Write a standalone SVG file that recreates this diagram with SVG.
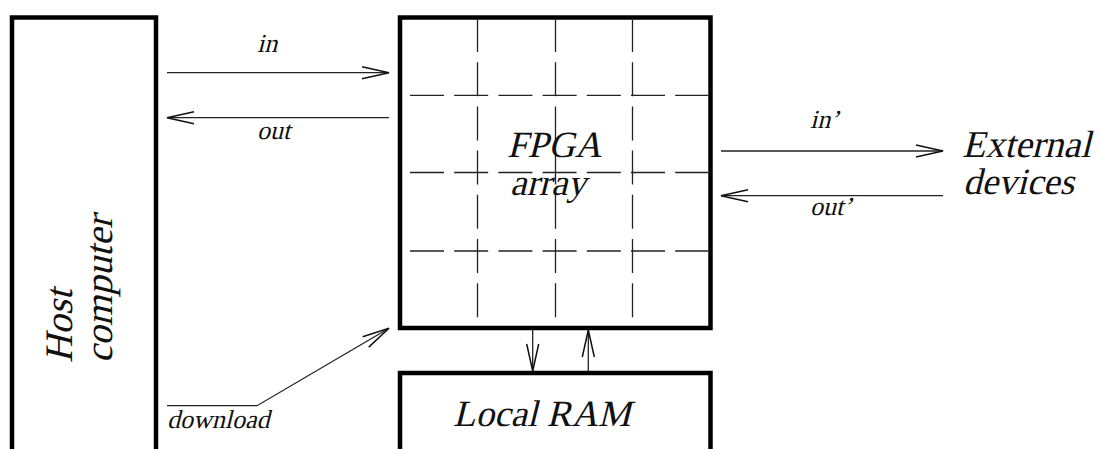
<svg xmlns="http://www.w3.org/2000/svg" width="1099" height="449" viewBox="0 0 1099 449">
<style>
.box{fill:#fff;stroke:#000;stroke-width:4.5}
.grid{stroke:#222;stroke-width:1.3;stroke-dasharray:34 10.2;fill:none}
.conn{stroke:#222;stroke-width:1.3;fill:none}
.lbl{font-family:'Liberation Serif','Times New Roman',serif;font-style:normal;fill:#111}
.s{font-size:26px}
.b{font-size:37px}
.h{font-size:39px}
</style>
<defs>
<marker id="ah" markerUnits="userSpaceOnUse" markerWidth="32" markerHeight="16" viewBox="-30 -8 32 16" refX="0" refY="0" orient="auto">
<path d="M-27,-6 L0,0 L-27,6" fill="none" stroke="#111" stroke-width="1.5"/>
</marker>
</defs>
<rect width="1099" height="449" fill="#fff"/>
<g id="host">
<rect class="box" x="12" y="17.5" width="144" height="450"/>
<text class="lbl h" transform="translate(72,363) rotate(-90) skewX(-14)">Host</text>
<text class="lbl h" transform="translate(112,363) rotate(-90) skewX(-14)">computer</text>
</g>
<g id="fpga">
<rect class="box" x="400" y="17.5" width="310.5" height="310.5"/>
<line class="grid" x1="477.5" y1="18" x2="477.5" y2="318"/>
<line class="grid" x1="555.5" y1="18" x2="555.5" y2="318"/>
<line class="grid" x1="632.5" y1="18" x2="632.5" y2="318"/>
<line class="grid" x1="410" y1="95.3" x2="708" y2="95.3"/>
<line class="grid" x1="410" y1="172.5" x2="708" y2="172.5"/>
<line class="grid" x1="410" y1="251" x2="708" y2="251"/>
<text class="lbl b" transform="translate(507,157) skewX(-14)">FPGA</text>
<text class="lbl b" transform="translate(510,195) skewX(-14)">array</text>
</g>
<g id="ram">
<rect class="box" x="400" y="373" width="310.5" height="100"/>
<text class="lbl b" transform="translate(453,426) skewX(-14)">Local RAM</text>
</g>
<g id="external">
<text class="lbl b" style="font-size:38px" transform="translate(962,157) skewX(-14)">External</text>
<text class="lbl b" transform="translate(963,194) skewX(-14)">devices</text>
</g>
<g id="connectors">
<line class="conn" x1="167" y1="72.7" x2="389" y2="72.7" marker-end="url(#ah)"/>
<line class="conn" x1="389" y1="117.7" x2="167" y2="117.7" marker-end="url(#ah)"/>
<line class="conn" x1="721" y1="151" x2="943" y2="151" marker-end="url(#ah)"/>
<line class="conn" x1="943" y1="195.7" x2="721" y2="195.7" marker-end="url(#ah)"/>
<line class="conn" x1="532.7" y1="330" x2="532.7" y2="371" marker-end="url(#ah)"/>
<line class="conn" x1="588.3" y1="371" x2="588.3" y2="330" marker-end="url(#ah)"/>
<polyline class="conn" points="167,405.7 257,405.7 389,328.3" marker-end="url(#ah)"/>
<text class="lbl s" transform="translate(257,52) skewX(-14)">in</text>
<text class="lbl s" transform="translate(257,139) skewX(-14)">out</text>
<text class="lbl s" transform="translate(810,128) skewX(-14)">in’</text>
<text class="lbl s" transform="translate(810,215) skewX(-14)">out’</text>
<text class="lbl s" transform="translate(167,428) skewX(-14)">download</text>
</g>
</svg>
